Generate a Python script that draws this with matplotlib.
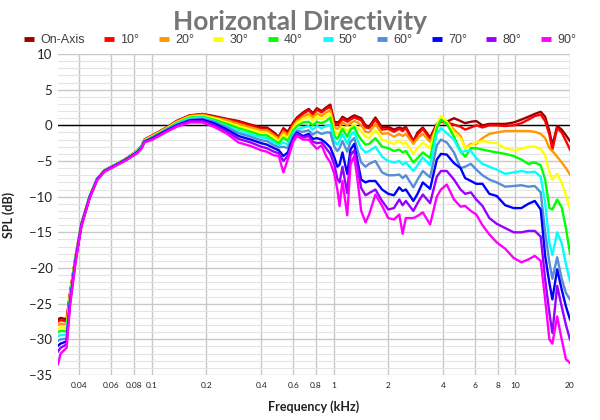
import matplotlib.pyplot as plt
from matplotlib.lines import Line2D
from matplotlib.ticker import FixedLocator, MultipleLocator, NullLocator

# Frequencies (kHz)
freq_khz = [0.0305, 0.0315, 0.034, 0.0355, 0.038, 0.041, 0.0455, 0.050, 0.055, 0.061, 0.071, 0.083, 0.088, 0.091,
            0.101, 0.121, 0.137, 0.162, 0.19, 0.22, 0.26, 0.30, 0.35, 0.40, 0.43, 0.47, 0.50,
            0.53, 0.56, 0.60, 0.63, 0.68, 0.73, 0.77, 0.81, 0.86, 0.91, 0.96,
            1.01, 1.05, 1.08, 1.12, 1.19, 1.24, 1.30, 1.36, 1.42, 1.50, 1.57, 1.70, 1.85, 2.0,
            2.15, 2.3, 2.4, 2.5, 2.75, 2.9, 3.1, 3.4, 3.7, 3.9, 4.2,
            4.6, 5.0, 5.3, 5.7, 6.1, 6.6, 7.2, 7.9, 8.8, 9.8, 10.8, 11.8, 12.8, 13.8,
            14.6, 15.4, 16.0, 17.0, 18.0, 19.0, 20.0]

spl_on = [-27.2, -27.0, -27.2, -23.5, -18.6, -13.8, -10.0, -7.5, -6.3, -5.7, -4.8, -3.6, -2.9, -2.0,
          -1.4, -0.3, 0.6, 1.4, 1.6, 1.3, 0.9, 0.6, 0.1, -0.3, -0.3, -1.0, -1.6,
          -0.4, -0.9, 0.4, 1.1, 1.8, 2.3, 1.7, 2.4, 2.0, 2.5, 2.9,
          0.5, 0.4, 0.6, 1.2, 0.8, 1.1, 1.4, 1.2, 1.0, 0.0, -0.2, 1.1, -0.3, -0.2,
          -0.6, -0.3, -0.5, -0.2, -2.2, -1.0, -0.3, -1.7, 0.2, 0.6, 0.5,
          1.0, 0.6, 0.3, 0.5, 0.6, 0.0, 0.2, 0.2, 0.2, 0.4, 0.8, 1.2, 1.6, 1.9,
          1.2, -0.8, -2.8, -0.1, -0.6, -1.4, -2.2]
spl_10 = [-27.5, -27.3, -27.5, -23.6, -18.6, -13.8, -10.0, -7.5, -6.3, -5.7, -4.8, -3.6, -2.9, -2.0,
          -1.4, -0.3, 0.6, 1.4, 1.5, 1.2, 0.8, 0.5, 0.0, -0.5, -0.5, -1.2, -1.7,
          -0.6, -1.1, 0.2, 0.9, 1.6, 2.1, 1.5, 2.2, 1.8, 2.3, 2.6,
          0.2, 0.1, 0.3, 0.9, 0.5, 0.8, 1.1, 0.9, 0.7, -0.3, -0.4, 0.8, -0.6, -0.5,
          -0.9, -0.5, -0.8, -0.4, -2.4, -1.3, -0.5, -1.9, 0.0, 0.5, 0.4,
          0.1, -0.2, -0.6, -0.3, 0.0, -0.3, 0.0, 0.0, -0.1, 0.0, 0.3, 0.8, 1.3, 1.5,
          0.6, -1.3, -3.4, -0.4, -1.0, -2.2, -3.4]
spl_20 = [-28.0, -27.8, -27.9, -23.8, -18.7, -13.8, -10.0, -7.5, -6.3, -5.7, -4.8, -3.6, -2.9, -2.1,
          -1.5, -0.4, 0.5, 1.3, 1.5, 1.1, 0.7, 0.2, -0.3, -0.7, -0.7, -1.4, -1.9,
          -0.9, -1.4, -0.1, 0.6, 1.2, 1.6, 1.1, 1.7, 1.3, 1.8, 2.1,
          -0.3, -0.5, -0.2, 0.4, 0.0, 0.3, 0.6, 0.4, 0.0, -0.9, -1.0, 0.2, -1.2, -1.1,
          -1.6, -1.2, -1.5, -1.2, -2.6, -1.8, -1.2, -2.3, -0.3, 0.8, 0.4,
          -0.6, -1.5, -3.2, -2.6, -2.6, -1.8, -1.2, -1.0, -0.8, -0.8, -0.8, -0.8, -0.9, -1.2,
          -1.8, -3.2, -3.6, -4.4, -5.2, -6.0, -6.9]
spl_30 = [-28.5, -28.3, -28.4, -24.0, -18.7, -13.9, -10.0, -7.5, -6.3, -5.7, -4.8, -3.7, -3.0, -2.1,
          -1.5, -0.4, 0.4, 1.2, 1.3, 1.0, 0.4, -0.1, -0.6, -1.0, -1.1, -1.7, -2.2,
          -1.3, -1.8, -0.4, 0.3, 0.9, 1.2, 0.6, 1.2, 0.8, 1.3, 1.6,
          -0.9, -1.2, -0.8, -0.2, -0.8, -0.3, 0.1, -0.4, -0.8, -1.6, -1.8, -0.6, -2.0, -2.3,
          -2.6, -2.2, -2.6, -2.4, -4.0, -3.2, -2.4, -3.2, 0.0, 1.3, 0.5,
          -1.0, -1.8, -3.2, -2.8, -2.4, -2.2, -2.4, -2.5, -3.2, -3.5, -3.3, -3.0, -3.0, -3.3,
          -4.2, -6.6, -7.6, -6.8, -8.0, -9.8, -11.8]
spl_40 = [-29.0, -28.8, -28.9, -24.2, -18.8, -13.9, -10.0, -7.5, -6.3, -5.7, -4.8, -3.7, -3.0, -2.2,
          -1.6, -0.5, 0.3, 1.1, 1.2, 0.8, 0.2, -0.4, -0.9, -1.4, -1.4, -2.1, -2.5,
          -1.7, -2.2, -0.7, -0.1, 0.4, 0.5, 0.0, 0.5, 0.3, 0.6, 1.1,
          -1.5, -1.9, -1.3, -0.5, -1.6, -0.6, -0.2, -1.3, -2.0, -2.7, -2.6, -1.8, -3.0, -3.2,
          -3.6, -3.4, -3.8, -3.6, -5.2, -4.6, -3.8, -4.6, -0.4, 0.8, 0.2,
          -1.6, -3.6, -4.4, -3.2, -3.2, -3.4, -3.6, -3.8, -4.0, -4.3, -4.8, -5.4, -5.2, -5.6,
          -7.6, -11.6, -11.8, -10.4, -11.5, -14.4, -18.0]
spl_50 = [-29.6, -29.4, -29.4, -24.4, -18.9, -13.9, -10.1, -7.6, -6.3, -5.7, -4.9, -3.7, -3.0, -2.2,
          -1.7, -0.6, 0.2, 1.0, 1.1, 0.6, -0.1, -0.8, -1.3, -1.7, -1.8, -2.4, -2.8,
          -2.4, -2.7, -1.1, -0.6, -0.3, -0.1, -0.6, -0.1, -0.4, -0.1, 0.1,
          -2.2, -2.7, -2.2, -1.2, -2.6, -1.4, -0.9, -2.2, -3.2, -3.8, -3.6, -3.0, -4.4, -5.0,
          -5.2, -5.0, -5.5, -5.2, -6.4, -5.6, -4.5, -5.6, -1.2, -0.4, -1.1,
          -2.0, -3.8, -3.6, -3.6, -4.6, -5.4, -5.8, -6.2, -6.8, -6.6, -6.4, -6.6, -6.5, -7.2,
          -10.9, -16.5, -18.2, -15.0, -16.5, -19.5, -21.8]
spl_60 = [-30.2, -30.0, -29.9, -24.6, -19.0, -14.0, -10.1, -7.6, -6.4, -5.8, -4.9, -3.8, -3.1, -2.3,
          -1.7, -0.6, 0.1, 0.8, 0.9, 0.5, -0.3, -1.1, -1.6, -2.1, -2.2, -2.8, -3.1,
          -3.0, -3.2, -1.4, -0.8, -0.9, -0.7, -1.3, -0.9, -1.2, -1.0, -1.0,
          -3.0, -3.6, -3.2, -2.2, -3.7, -2.3, -1.8, -3.6, -5.2, -5.8, -5.4, -5.0, -6.6, -7.0,
          -7.0, -6.9, -7.4, -7.0, -8.7, -7.6, -6.4, -7.3, -2.8, -2.0, -2.4,
          -3.8, -6.0, -5.8, -5.4, -6.2, -7.0, -7.6, -8.0, -8.6, -8.5, -8.4, -8.6, -8.5, -9.4,
          -15.0, -19.2, -21.5, -18.5, -21.5, -23.5, -24.4]
spl_70 = [-30.9, -30.6, -30.3, -24.8, -19.1, -14.0, -10.1, -7.6, -6.4, -5.8, -4.9, -3.8, -3.1, -2.3,
          -1.8, -0.7, 0.0, 0.7, 0.8, 0.3, -0.6, -1.5, -2.0, -2.5, -2.7, -3.2, -3.5,
          -4.3, -3.8, -1.8, -1.0, -1.5, -1.2, -1.9, -1.8, -2.0, -2.5, -3.1,
          -4.5, -5.8, -5.5, -3.8, -6.8, -3.4, -2.6, -5.2, -7.6, -8.0, -7.8, -7.8, -9.0, -9.6,
          -9.8, -8.7, -9.2, -9.0, -10.6, -9.6, -8.0, -8.9, -4.8, -4.0, -4.1,
          -5.3, -6.0, -7.4, -7.8, -8.2, -8.2, -9.6, -9.9, -11.2, -11.6, -11.6, -11.0, -10.6, -11.8,
          -18.3, -22.1, -24.4, -20.2, -23.0, -25.4, -27.2]
spl_80 = [-31.7, -31.2, -30.7, -25.0, -19.2, -14.1, -10.2, -7.7, -6.4, -5.8, -5.0, -3.9, -3.2, -2.4,
          -1.9, -0.8, -0.1, 0.6, 0.6, 0.0, -0.9, -1.9, -2.4, -3.0, -3.2, -3.7, -3.9,
          -5.0, -4.3, -2.0, -1.2, -1.7, -1.5, -2.3, -2.5, -2.4, -3.2, -4.0,
          -5.5, -7.5, -8.0, -5.8, -9.5, -4.2, -3.5, -6.0, -8.8, -9.8, -9.5, -9.0, -10.6, -11.8,
          -11.6, -10.4, -11.2, -10.6, -12.0, -10.9, -9.7, -10.9, -7.2, -6.4, -6.4,
          -7.6, -9.0, -9.6, -9.4, -10.4, -11.3, -13.0, -13.8, -14.4, -15.0, -15.0, -14.8, -14.8, -15.6,
          -21.6, -26.3, -29.1, -22.5, -25.4, -28.0, -30.0]
spl_90 = [-33.5, -32.0, -31.2, -25.3, -19.4, -14.2, -10.2, -7.7, -6.5, -5.9, -5.0, -3.9, -3.2, -2.4,
          -2.0, -0.9, -0.2, 0.4, 0.4, -0.2, -1.2, -2.4, -2.9, -3.5, -3.7, -4.2, -4.3,
          -6.6, -4.8, -2.3, -1.5, -2.0, -2.0, -2.7, -3.3, -2.8, -4.3, -5.2,
          -6.8, -9.0, -11.3, -7.8, -12.6, -5.5, -4.3, -8.0, -12.0, -13.6, -12.5, -9.7, -11.3, -13.0,
          -13.2, -12.5, -15.2, -13.0, -13.0, -12.7, -12.2, -13.9, -10.0, -9.0, -8.3,
          -10.4, -11.4, -11.3, -12.0, -12.5, -14.0, -15.3, -16.4, -17.3, -18.6, -19.2, -18.8, -18.3, -19.0,
          -24.4, -30.0, -30.6, -26.8, -30.0, -32.8, -33.3]

series = [spl_on, spl_10, spl_20, spl_30, spl_40, spl_50, spl_60, spl_70, spl_80, spl_90]
labels = ['On-Axis', '10°', '20°', '30°', '40°', '50°', '60°', '70°', '80°', '90°']
colors = ['#990000', '#ff0000', '#ff9900', '#ffff00', '#00ff00',
          '#00ffff', '#558ed5', '#0000ff', '#9900ff', '#ff00ff']

xtick_vals = [0.04, 0.06, 0.08, 0.1, 0.2, 0.4, 0.6, 0.8, 1, 2, 4, 6, 8, 10, 20]
xtick_text = ['0.04', '0.06', '0.08', '0.1', '0.2', '0.4', '0.6', '0.8', '1', '2', '4', '6', '8', '10', '20']

fig = plt.figure(figsize=(6, 4.2), dpi=100)
ax = fig.add_axes([58 / 600, 1 - 375 / 420, 512 / 600, 321 / 420])

for spl, c in zip(series, colors):
    ax.plot(freq_khz, spl, color=c, lw=1.7, solid_joinstyle='round', zorder=3)

ax.axhline(0, color='black', lw=1, zorder=2)

ax.set_xscale('log')
ax.set_xlim(0.0305, 20)
ax.set_ylim(-35, 10)
ax.xaxis.set_major_locator(FixedLocator(xtick_vals))
ax.xaxis.set_minor_locator(NullLocator())
ax.set_xticklabels(xtick_text)
ax.yaxis.set_major_locator(MultipleLocator(5))
ax.yaxis.set_minor_locator(MultipleLocator(1))

ax.grid(which='major', color='#c8c8c8', lw=1, zorder=0)
ax.grid(which='minor', axis='y', color='#e4e4e4', lw=0.8, zorder=0)
ax.set_axisbelow(True)
for s in ax.spines.values():
    s.set_visible(False)

ax.tick_params(which='both', length=0)
ax.tick_params(axis='y', pad=4, labelsize=9.5, labelcolor='#222222')
ax.tick_params(axis='x', pad=5, labelsize=6, labelcolor='#222222')
for t in ax.get_yticklabels() + ax.get_xticklabels():
    t.set_fontfamily('Lato')

ax.set_xlabel('Frequency (kHz)', fontfamily='Lato', fontweight='bold', fontsize=9, color='#222222', labelpad=8)
ax.set_ylabel('SPL (dB)', fontfamily='Lato', fontweight='bold', fontsize=9, color='#222222', labelpad=10)

fig.text(0.5, 1 - 30 / 420, 'Horizontal Directivity', ha='center', va='baseline',
         fontfamily='Lato', fontweight='bold', fontsize=19, color='#767676')

handles = [Line2D([], [], color=c, lw=3.5, solid_capstyle='butt') for c in colors]
fig.legend(handles, labels, loc='center', bbox_to_anchor=(0.5, 1 - 40 / 420), ncol=10,
           frameon=False, handlelength=0.8, handletextpad=0.5, columnspacing=1.55,
           prop={'family': 'Liberation Sans', 'size': 9}, labelcolor='#404040')

fig.savefig('out.png', dpi=100)
